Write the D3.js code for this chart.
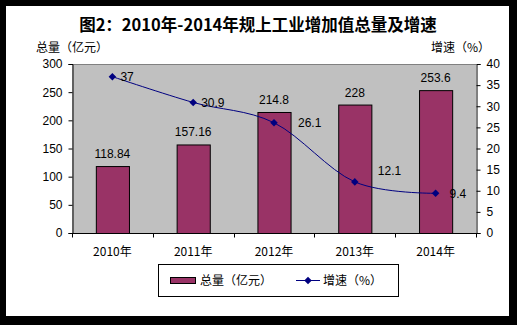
<!DOCTYPE html>
<html>
<head>
<meta charset="utf-8">
<script src="https://cdn.jsdelivr.net/npm/d3@7/dist/d3.min.js"></script>
<style>
  html, body { margin: 0; padding: 0; background: #000; }
  svg { display: block; }
  text { font-family: "Liberation Sans", Arial, sans-serif; }
  .cjk { font-family: "Noto Sans CJK SC", "Noto Sans", sans-serif; }
</style>
</head>
<body>
<script>
// Industrial value added above designated size, 2010-2014
const years = ["2010年", "2011年", "2012年", "2013年", "2014年"];
const totals = [118.84, 157.16, 214.8, 228, 253.6];      // 亿元
const growth = [37, 30.9, 26.1, 12.1, 9.4];              // %
const leftTicks = [0, 50, 100, 150, 200, 250, 300];
const rightTicks = [0, 5, 10, 15, 20, 25, 30, 35, 40];

// label nudges for the growth-rate annotations (dx, dy in px)
const growthLabelShift = [[8, 0], [8, 0], [24, 0], [23, -11], [14, 0]];

const W = 517, H = 325;
const plot = { left: 72, right: 476, top: 64, bottom: 233 };

const svg = d3.select("body").append("svg").attr("width", W).attr("height", H);

// black frame and white card
svg.append("rect").attr("width", W).attr("height", H).attr("fill", "#000");
svg.append("rect").attr("x", 6).attr("y", 6).attr("width", 503).attr("height", 310).attr("fill", "#fff");

svg.append("text").attr("class", "cjk")
  .attr("x", 258).attr("y", 31).attr("text-anchor", "middle")
  .attr("font-size", 16.5).attr("font-weight", "bold")
  .text("图2：2010年-2014年规上工业增加值总量及增速");

svg.append("text").attr("class", "cjk").attr("x", 36).attr("y", 52)
  .attr("font-size", 12).text("总量（亿元）");
svg.append("text").attr("class", "cjk").attr("x", 490).attr("y", 52)
  .attr("text-anchor", "end").attr("font-size", 12).text("增速（%）");

const x = d3.scaleBand().domain(years).range([plot.left, plot.right]).paddingInner(0.59).paddingOuter(0.295);
const xb = d3.scaleBand().domain(years).range([plot.left, plot.right]);
const yL = d3.scaleLinear().domain([0, 300]).range([plot.bottom, plot.top]);
const yR = d3.scaleLinear().domain([0, 40]).range([plot.bottom, plot.top]);

// plot background
svg.append("rect").attr("x", plot.left).attr("y", plot.top)
  .attr("width", plot.right - plot.left).attr("height", plot.bottom - plot.top)
  .attr("fill", "#c0c0c0");
svg.append("line").attr("x1", plot.left).attr("x2", plot.right)
  .attr("y1", plot.top + 0.5).attr("y2", plot.top + 0.5).attr("stroke", "#808080");

// bars
svg.append("g").selectAll("rect").data(totals).join("rect")
  .attr("x", (d, i) => x(years[i]) + 0.5)
  .attr("y", d => yL(d) + 0.5)
  .attr("width", x.bandwidth())
  .attr("height", d => plot.bottom - yL(d))
  .attr("fill", "#993366").attr("stroke", "#000").attr("stroke-width", 1);

svg.append("g").selectAll("text").data(totals).join("text")
  .attr("x", (d, i) => xb(years[i]) + xb.bandwidth() / 2)
  .attr("y", d => yL(d) - 8)
  .attr("text-anchor", "middle").attr("font-size", 12)
  .text(d => d);

// axes
const axL = d3.axisLeft(yL).tickValues(leftTicks).tickSize(4).tickPadding(6);
const gL = svg.append("g").attr("transform", `translate(${plot.left + 0.5},0)`).call(axL);
const axR = d3.axisRight(yR).tickValues(rightTicks).tickSize(4).tickPadding(6);
const gR = svg.append("g").attr("transform", `translate(${plot.right + 0.5},0)`).call(axR);
[gL, gR].forEach(g => {
  g.select(".domain").attr("stroke", "#000");
  g.selectAll(".tick line").attr("stroke", "#000");
  g.selectAll(".tick text").attr("font-size", 12).attr("font-family", "Liberation Sans, Arial, sans-serif").attr("fill", "#000");
});

const gX = svg.append("g").attr("transform", `translate(0,${plot.bottom + 0.5})`);
gX.append("line").attr("x1", plot.left).attr("x2", plot.right + 1).attr("stroke", "#000");
const bounds = years.map(y => xb(y)).concat([plot.right]);
gX.selectAll("line.t").data(bounds).join("line").attr("class", "t")
  .attr("x1", d => Math.round(d) + 0.5).attr("x2", d => Math.round(d) + 0.5)
  .attr("y1", 0).attr("y2", 4).attr("stroke", "#000");
gX.selectAll("text").data(years).join("text").attr("class", "cjk")
  .attr("x", d => xb(d) + xb.bandwidth() / 2).attr("y", 22)
  .attr("text-anchor", "middle").attr("font-size", 12)
  .text(d => d);

// growth-rate line (smoothed)
const pts = growth.map((v, i) => [xb(years[i]) + xb.bandwidth() / 2, yR(v)]);
svg.append("path").datum(pts)
  .attr("d", d3.line().curve(d3.curveCardinal.tension(0)))
  .attr("fill", "none").attr("stroke", "#000080").attr("stroke-width", 1);

const diamond = d3.symbol().type(d3.symbolDiamond2).size(36);
svg.append("g").selectAll("path").data(pts).join("path")
  .attr("transform", d => `translate(${d[0]},${d[1]})`)
  .attr("d", diamond).attr("fill", "#000080");

svg.append("g").selectAll("text").data(growth).join("text")
  .attr("x", (d, i) => pts[i][0] + growthLabelShift[i][0])
  .attr("y", (d, i) => pts[i][1] + growthLabelShift[i][1] + 4.5)
  .attr("font-size", 12)
  .text(d => d);

// legend
const lg = svg.append("g");
lg.append("rect").attr("x", 158.5).attr("y", 264.5).attr("width", 240).attr("height", 32)
  .attr("fill", "#fff").attr("stroke", "#000");
lg.append("rect").attr("x", 170.5).attr("y", 277.5).attr("width", 25).attr("height", 6)
  .attr("fill", "#993366").attr("stroke", "#000");
lg.append("text").attr("class", "cjk").attr("x", 200).attr("y", 285).attr("font-size", 12).text("总量（亿元）");
lg.append("line").attr("x1", 296).attr("x2", 320).attr("y1", 280.5).attr("y2", 280.5)
  .attr("stroke", "#000080");
lg.append("path").attr("transform", "translate(308,280.5)").attr("d", diamond).attr("fill", "#000080");
lg.append("text").attr("class", "cjk").attr("x", 323).attr("y", 285).attr("font-size", 12).text("增速（%）");
</script>
</body>
</html>
